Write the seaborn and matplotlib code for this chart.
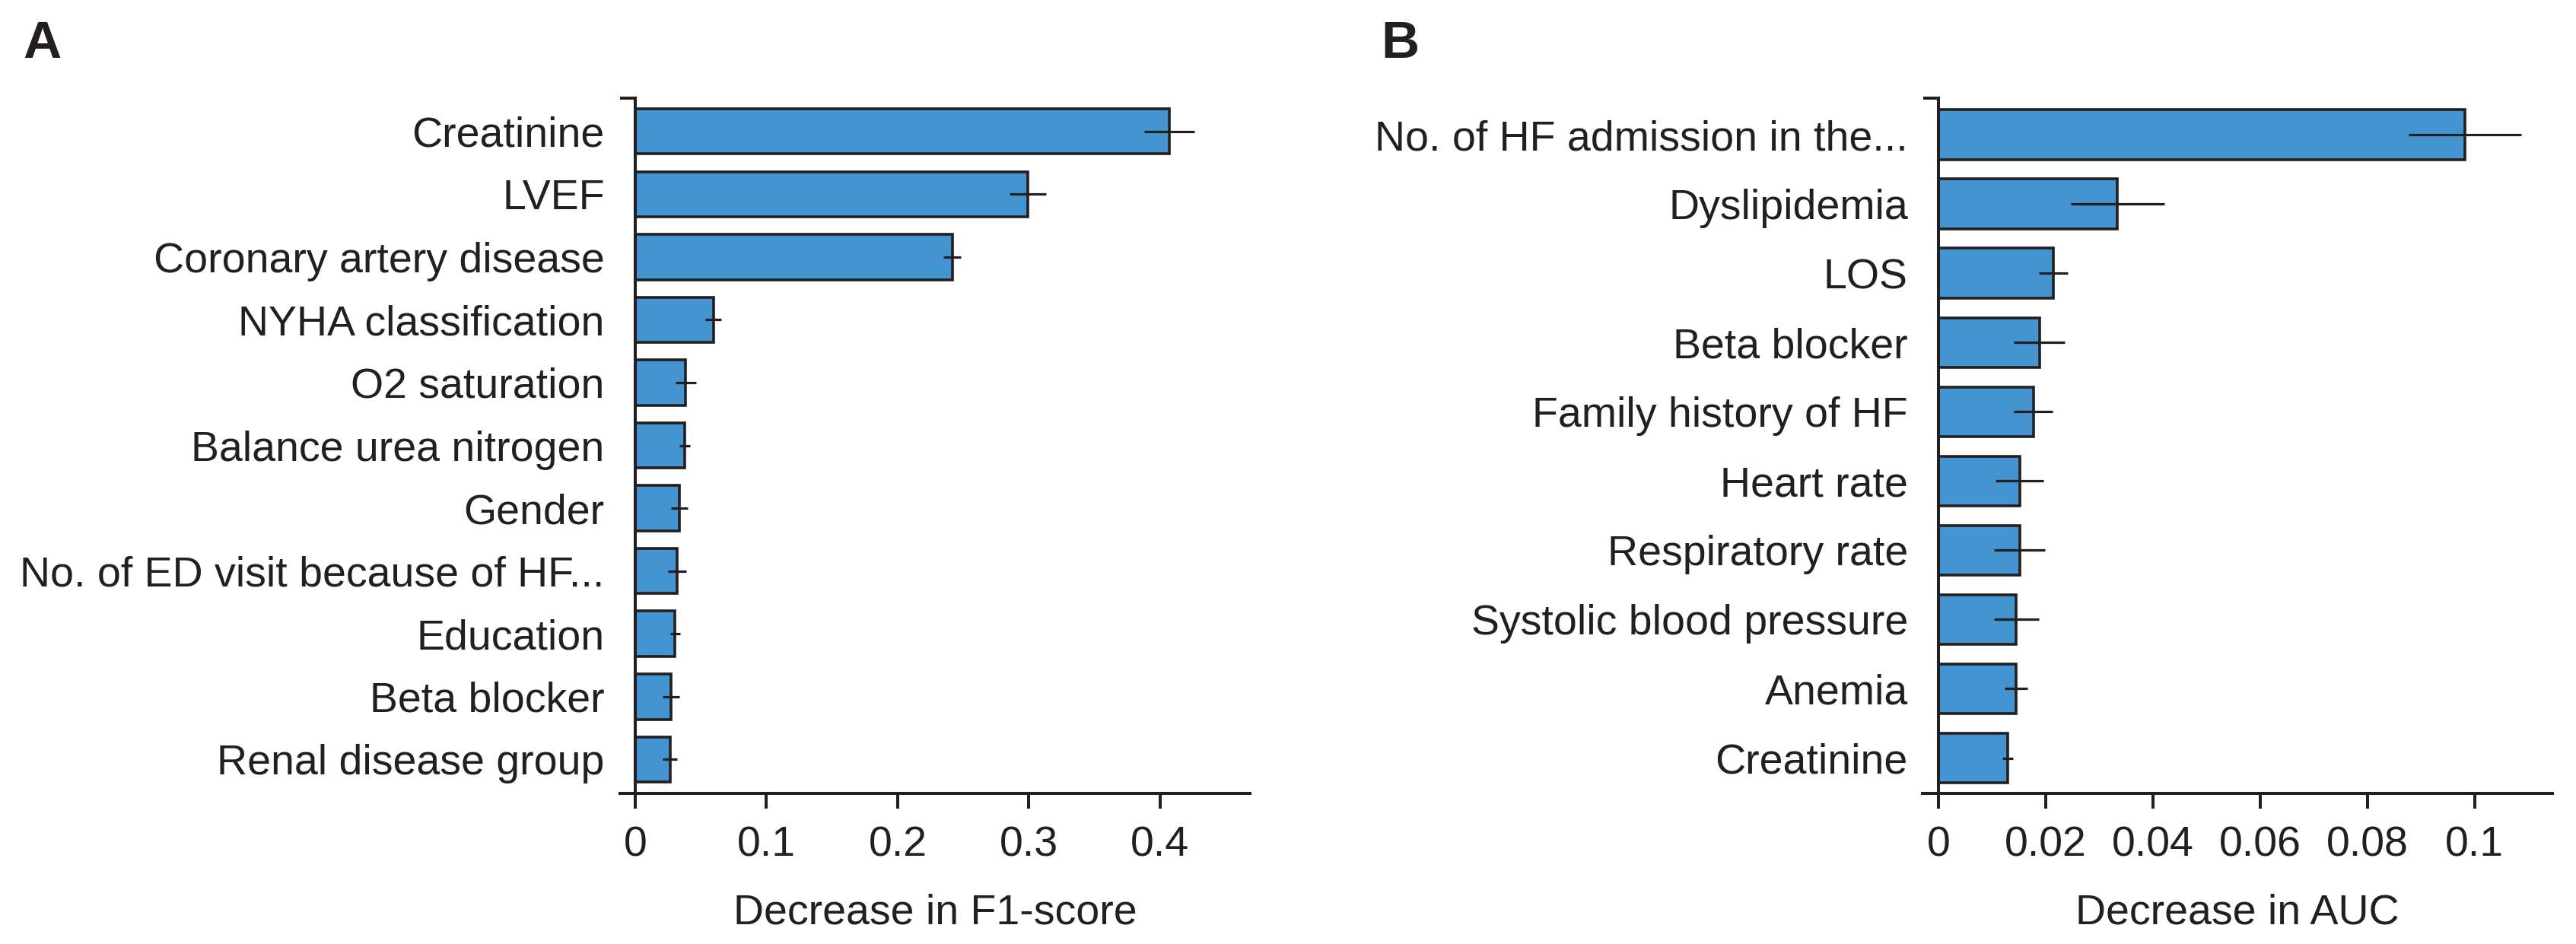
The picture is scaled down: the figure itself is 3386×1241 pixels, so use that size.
import matplotlib
matplotlib.use('Agg')
import matplotlib.pyplot as plt
import seaborn as sns
import pandas as pd

# Panel A: permutation importance, decrease in F1-score
f1_features = ["Creatinine", "LVEF", "Coronary artery disease", "NYHA classification",
               "O2 saturation", "Balance urea nitrogen", "Gender",
               "No. of ED visit because of HF...", "Education", "Beta blocker",
               "Renal disease group"]
f1_decrease = [0.407, 0.299, 0.2415, 0.0595, 0.0385, 0.0378, 0.0338, 0.0318, 0.0304, 0.0271, 0.0264]
f1_err = [0.019, 0.014, 0.0065, 0.006, 0.008, 0.004, 0.0063, 0.007, 0.004, 0.0064, 0.0057]
f1_ticks = [0, 0.1, 0.2, 0.3, 0.4]
f1_ticklabels = ["0", "0.1", "0.2", "0.3", "0.4"]

# Panel B: decrease in AUC
auc_features = ["No. of HF admission in the...", "Dyslipidemia", "LOS", "Beta blocker",
                "Family history of HF", "Heart rate", "Respiratory rate",
                "Systolic blood pressure", "Anemia", "Creatinine"]
auc_decrease = [0.0982, 0.0334, 0.0214, 0.0188, 0.0177, 0.0151, 0.0151, 0.0145, 0.0145, 0.0129]
auc_err = [0.0105, 0.0087, 0.0027, 0.0047, 0.0036, 0.0045, 0.0047, 0.0042, 0.0021, 0.001]
auc_ticks = [0, 0.02, 0.04, 0.06, 0.08, 0.1]
auc_ticklabels = ["0", "0.02", "0.04", "0.06", "0.08", "0.1"]

sns.set_theme(style="ticks")
plt.rcParams['font.family'] = ['Liberation Sans', 'DejaVu Sans']

BAR = '#4394d0'
INK = '#231f20'

fig = plt.figure(figsize=(33.86, 12.41), dpi=100)
ax_a = fig.add_axes([0.2407, 0.1596, 0.2445, 0.7365])
ax_b = fig.add_axes([0.7463, 0.1596, 0.2445, 0.7365])


def draw_panel(ax, feats, vals, errs, ticks, ticklabels, xlim, ylim, xlabel):
    df = pd.DataFrame({"feature": feats, "value": vals})
    sns.barplot(data=df, x="value", y="feature", orient="h", color=BAR, saturation=1,
                width=0.72, edgecolor=INK, linewidth=2.6, ax=ax)
    ax.errorbar(vals, range(len(feats)), xerr=errs, fmt="none", ecolor=INK,
                elinewidth=2.3, capsize=0)
    ax.set_xlim(*xlim)
    ax.set_ylim(*ylim)

    sns.despine(ax=ax)
    ax.spines["left"].set_position(("data", 0))
    for s in ("left", "bottom"):
        ax.spines[s].set_linewidth(2.9)
        ax.spines[s].set_color(INK)

    ax.set_xticks(ticks)
    ax.set_xticklabels(ticklabels)
    ax.tick_params(axis="x", length=14.4, width=2.9, color=INK, pad=16,
                   labelsize=40, labelcolor=INK, direction="out")
    ax.tick_params(axis="y", which="major", length=0, pad=29, labelsize=40, labelcolor=INK)
    # little tick closing the top of the y axis
    ax.set_yticks([ylim[1]], minor=True)
    ax.tick_params(axis="y", which="minor", length=14.4, width=2.9, color=INK, direction="out")

    ax.set_ylabel("")
    ax.set_xlabel(xlabel, fontsize=40, color=INK, labelpad=27)


draw_panel(ax_a, f1_features, f1_decrease, f1_err, f1_ticks, f1_ticklabels,
           (-0.0116, 0.4684), (10.54, -0.53), "Decrease in F1-score")
draw_panel(ax_b, auc_features, auc_decrease, auc_err, auc_ticks, auc_ticklabels,
           (-0.003, 0.1145), (9.51, -0.53), "Decrease in AUC")

fig.text(30 / 3386, 1 - 26 / 1241, "A", fontsize=50, fontweight="bold", color=INK,
         va="top", ha="left", family=["Liberation Sans Narrow", "Liberation Sans"])
fig.text(1815 / 3386, 1 - 26 / 1241, "B", fontsize=50, fontweight="bold", color=INK,
         va="top", ha="left", family=["Liberation Sans Narrow", "Liberation Sans"])

fig.savefig("out.png", dpi=100)
